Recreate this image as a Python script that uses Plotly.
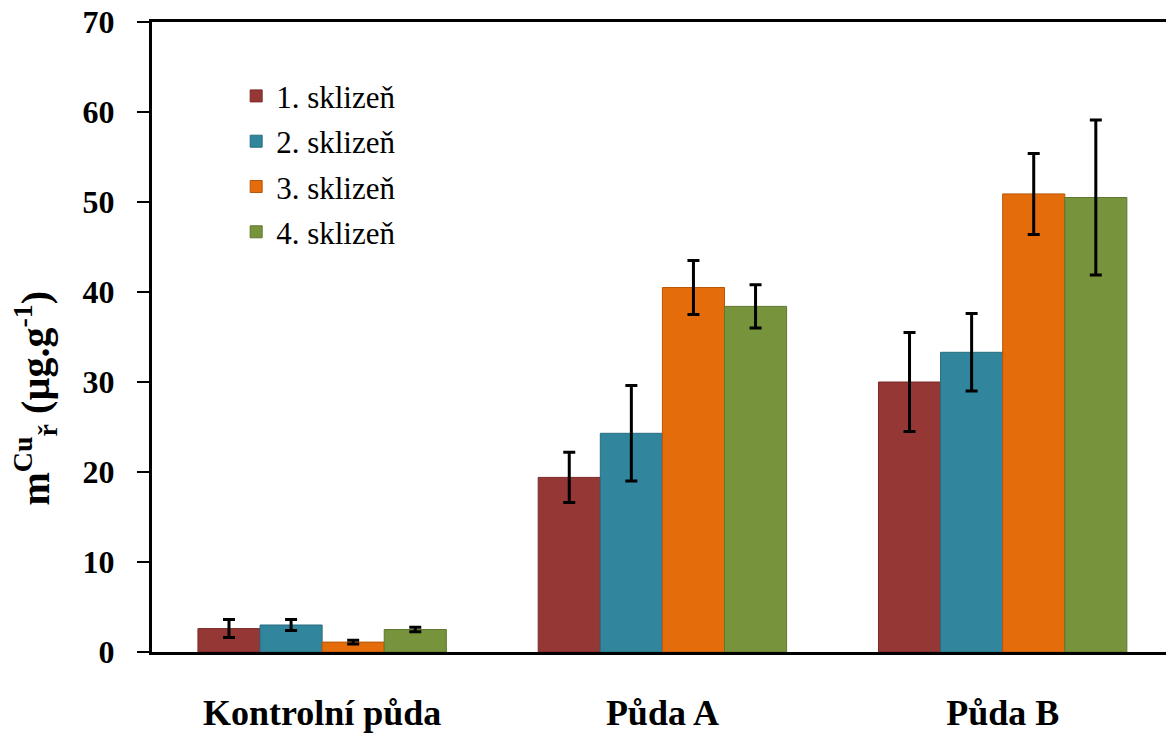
import plotly.graph_objects as go

categories = ["Kontrolní půda", "Půda A", "Půda B"]
series_names = ["1. sklizeň", "2. sklizeň", "3. sklizeň", "4. sklizeň"]
values = [
    [2.6, 19.4, 30.0],
    [3.0, 24.3, 33.3],
    [1.1, 40.5, 50.9],
    [2.5, 38.4, 50.5],
]
errors = [
    [1.0, 2.8, 5.5],
    [0.6, 5.3, 4.3],
    [0.2, 3.0, 4.5],
    [0.25, 2.4, 8.6],
]
colors = ["#953735", "#31859C", "#E46C0A", "#77933C"]
edges = ["#7a2b29", "#286d80", "#b85708", "#5f7630"]
y_ticks = [0, 10, 20, 30, 40, 50, 60, 70]
y_title = "m<sup>Cu</sup><sub>ř</sub> (µg.g<sup>-1</sup>)"

fig = go.Figure()
for name, v, e, c, ec in zip(series_names, values, errors, colors, edges):
    fig.add_trace(go.Bar(
        name=name, x=categories, y=v, legendgroup=name,
        marker=dict(color=c, line=dict(color=ec, width=1)),
        error_y=dict(type="data", array=e, visible=True, color="black",
                     thickness=3, width=6),
    ))

fig.update_layout(
    width=1166, height=733,
    margin=dict(l=152, r=0, t=22, b=81),
    paper_bgcolor="white", plot_bgcolor="white",
    barmode="group", bargap=0.27, bargroupgap=0,
    font=dict(family="Liberation Serif", color="black"),
    legend=dict(x=0.083, y=0.925, xanchor="left", yanchor="top",
                font=dict(size=31, family="Liberation Serif"),
                tracegroupgap=2, bgcolor="rgba(0,0,0,0)"),
    showlegend=True,
)
fig.add_annotation(
    text=y_title, xref="paper", yref="paper", x=-0.115, y=0.403,
    xanchor="center", yanchor="middle", textangle=-90, showarrow=False,
    font=dict(size=40, family="Liberation Serif", weight="bold", color="black"),
)
fig.update_xaxes(
    range=[-0.5, 2.48], showline=True, linecolor="black", linewidth=3,
    mirror=True, ticks="", ticklabelstandoff=27, automargin=False,
    tickfont=dict(size=36, family="Liberation Serif", weight="bold"),
    showgrid=False, zeroline=False,
)
fig.update_yaxes(
    range=[0, 70], tickvals=y_ticks, showline=True, linecolor="black",
    linewidth=3, ticks="outside", ticklen=12, tickwidth=2, tickcolor="black",
    ticklabelstandoff=16, automargin=False,
    tickfont=dict(size=32, family="Liberation Serif", weight="bold"),
    showgrid=False, zeroline=False,
)
fig.write_html("out.html", post_script="document.body.style.margin='0';",
               config={"displayModeBar": False})
